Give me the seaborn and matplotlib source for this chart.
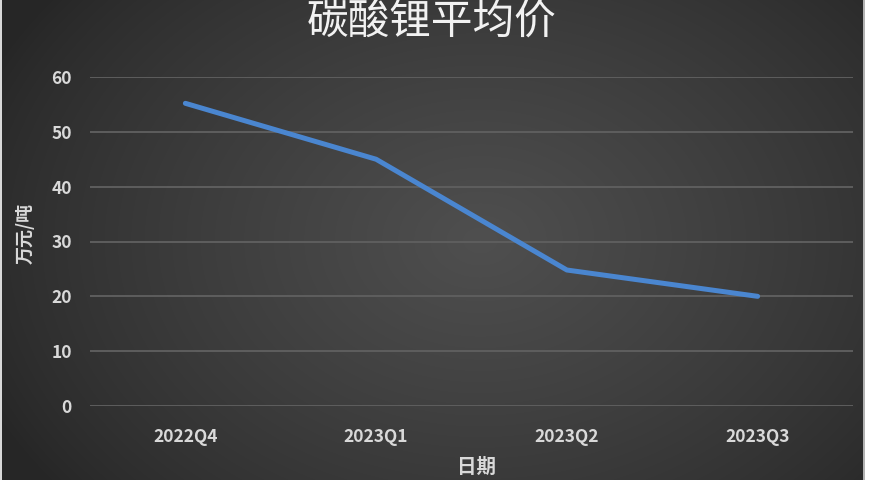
import numpy as np
import pandas as pd
import matplotlib
matplotlib.use("Agg")
import matplotlib.pyplot as plt
import seaborn as sns

periods = ["2022Q4", "2023Q1", "2023Q2", "2023Q3"]
prices = [55.2, 45.0, 24.8, 20.0]
y_ticks = [0, 10, 20, 30, 40, 50, 60]
title = "碳酸锂平均价"
x_label = "日期"
y_label = "万元/吨"

sns.set_theme(style="dark")
plt.rcParams['font.family'] = ['Noto Sans CJK SC', 'DejaVu Sans']

W, H = 869, 480
fig = plt.figure(figsize=(W / 100, H / 100), dpi=100)

# background radial gradient
bg = fig.add_axes([0, 0, 1, 1], zorder=-10)
yy, xx = np.mgrid[0:H, 0:W]
cx, cy = 480, 240
r = np.sqrt(((xx - cx) / 540.0) ** 2 + ((yy - cy) / 400.0) ** 2)
inner, outer = 0.31, 0.15
val = outer + (inner - outer) * np.clip(1 - r, 0, 1) ** 0.8
img = np.dstack([val, val, val])
img[:, :2] = 0.85
img[:, W - 6:W - 4] = 0.7
img[:, W - 4:] = 1.0
bg.imshow(img, aspect="auto", extent=[0, W, H, 0])
bg.axis("off")

ax = fig.add_axes([90 / W, 1 - 406 / H, (853 - 90) / W, (406 - 77) / H])
ax.set_facecolor("none")
df = pd.DataFrame({"period": periods, "price": prices})
sns.lineplot(data=df, x="period", y="price", ax=ax, color="#4a86d0",
             linewidth=3.6, solid_capstyle="round", sort=False)

ax.set_xlim(-0.5, 3.5)
ax.set_ylim(0, 60)
ax.set_yticks(y_ticks)
ax.yaxis.grid(True, color="#5e5e5e", linewidth=1.4)
ax.xaxis.grid(False)
for s in ax.spines.values():
    s.set_visible(False)
ax.tick_params(axis="both", length=0, colors="#d9d9d9", labelsize=12.5)
ax.tick_params(axis="y", pad=13)
ax.tick_params(axis="x", pad=16)
for lab in ax.get_xticklabels() + ax.get_yticklabels():
    lab.set_fontweight("semibold")
ax.set_xlabel("")
ax.set_ylabel("")

fig.text(477 / W, 1 - 467 / H, x_label, color="#d9d9d9", fontsize=14,
         fontweight="bold", ha="center", va="center")
fig.text(25 / W, 1 - 234 / H, y_label, color="#d9d9d9", fontsize=13,
         fontweight="bold", ha="center", va="center", rotation=90)
fig.text(432 / W, 1 - 22 / H, title, color="#f2f2f2", fontsize=30,
         fontweight="medium", ha="center", va="center")

fig.savefig("out.png", dpi=100)
